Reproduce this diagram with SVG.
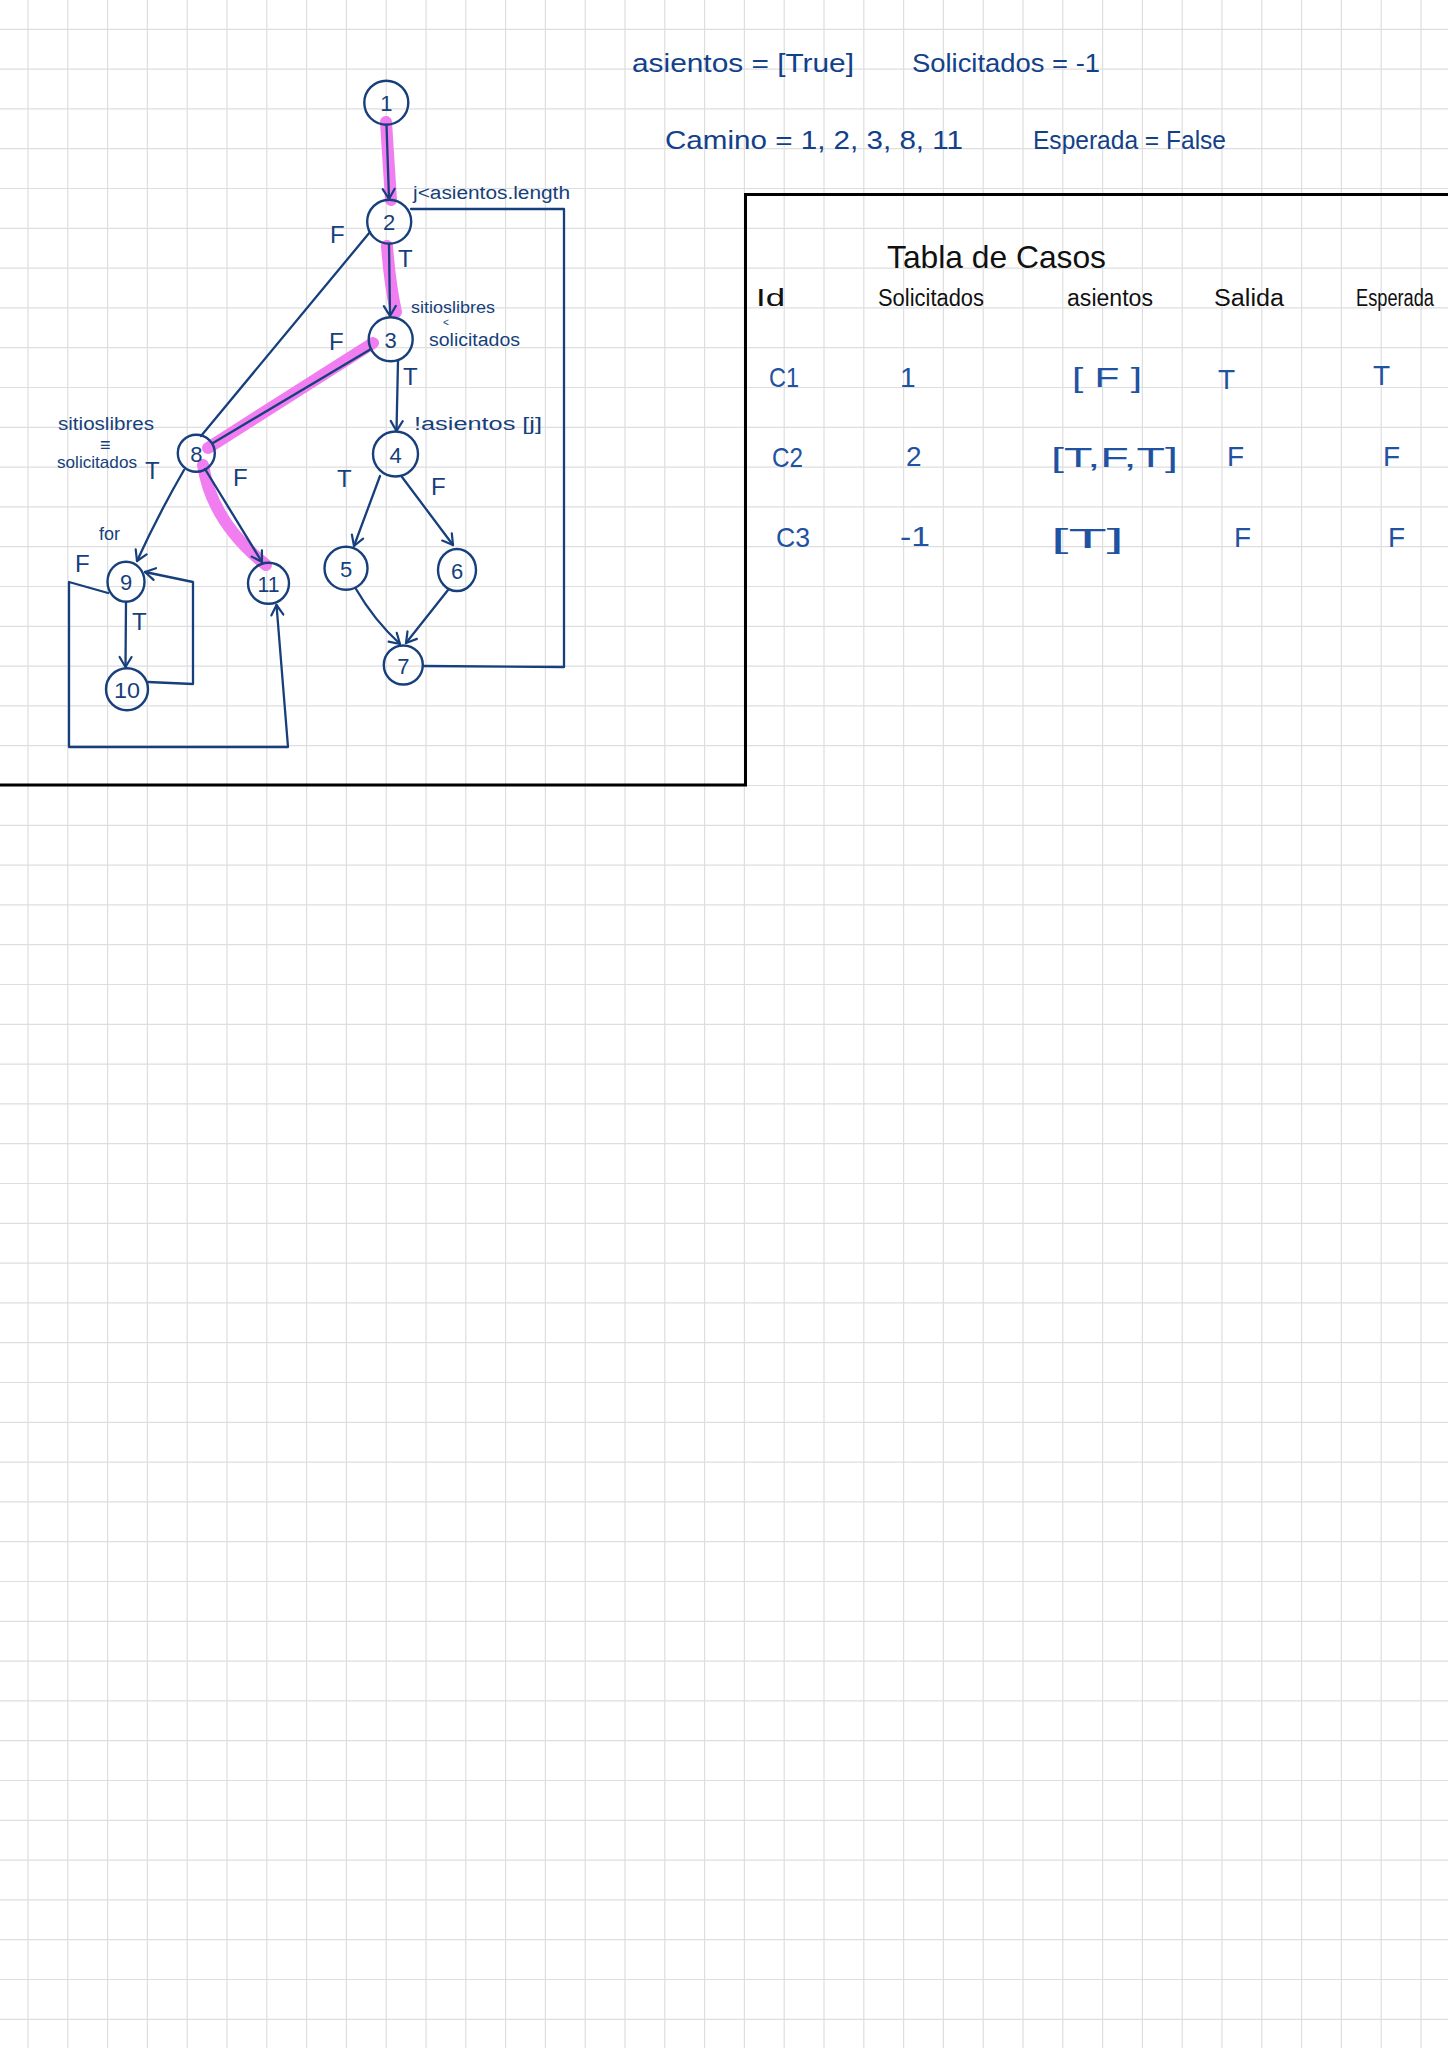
<svg xmlns="http://www.w3.org/2000/svg" width="1448" height="2048" viewBox="0 0 1448 2048">
<defs>
<style>
.ink{fill:none;stroke:#163f7c;stroke-width:2.3;stroke-linecap:round;stroke-linejoin:round}
.node{fill:none;stroke:#163f7c;stroke-width:2.4}
.num{font-family:"Liberation Sans",Arial,sans-serif;font-size:22px;fill:#163f7c;text-anchor:middle;dominant-baseline:central}
.lbl{font-family:"Liberation Sans",Arial,sans-serif;font-size:24px;fill:#163f7c}
.sm{font-family:"Liberation Sans",Arial,sans-serif;font-size:18px;fill:#163f7c}
.top{font-family:"Liberation Sans",Arial,sans-serif;font-size:26px;fill:#12418a}
.hdr{font-family:"Liberation Sans",Arial,sans-serif;font-size:23px;fill:#111}
.cell{font-family:"Liberation Sans",Arial,sans-serif;font-size:28px;fill:#1f52a0}
.hl{fill:none;stroke:#f07ef0;stroke-width:12;stroke-linecap:round;stroke-linejoin:round}
.grid{fill:none;stroke:#dedede;stroke-width:1.2}
</style>
<marker id="arr" viewBox="-12 -8 14 16" markerWidth="14" markerHeight="16" refX="0" refY="0" orient="auto" markerUnits="userSpaceOnUse">
<path d="M-10,-6 L0,0 L-10,6" fill="none" stroke="#163f7c" stroke-width="2.2" stroke-linecap="round" stroke-linejoin="round"/>
</marker>
</defs>
<rect width="1448" height="2048" fill="#ffffff"/>
<g id="grid">
<path class="grid" d="M28 0V2048M67.8 0V2048M107.6 0V2048M147.4 0V2048M187.2 0V2048M227 0V2048M266.8 0V2048M306.6 0V2048M346.4 0V2048M386.2 0V2048M426 0V2048M465.8 0V2048M505.6 0V2048M545.4 0V2048M585.2 0V2048M625 0V2048M664.8 0V2048M704.6 0V2048M744.4 0V2048M784.2 0V2048M824 0V2048M863.8 0V2048M903.6 0V2048M943.4 0V2048M983.2 0V2048M1023 0V2048M1062.8 0V2048M1102.6 0V2048M1142.4 0V2048M1182.2 0V2048M1222 0V2048M1261.8 0V2048M1301.6 0V2048M1341.4 0V2048M1381.2 0V2048M1421 0V2048"/>
<path class="grid" d="M0 29.3H1448M0 69.1H1448M0 108.9H1448M0 148.7H1448M0 188.5H1448M0 228.3H1448M0 268.1H1448M0 307.9H1448M0 347.7H1448M0 387.5H1448M0 427.3H1448M0 467.1H1448M0 506.9H1448M0 546.7H1448M0 586.5H1448M0 626.3H1448M0 666.1H1448M0 705.9H1448M0 745.7H1448M0 785.5H1448M0 825.3H1448M0 865.1H1448M0 904.9H1448M0 944.7H1448M0 984.5H1448M0 1024.3H1448M0 1064.1H1448M0 1103.9H1448M0 1143.7H1448M0 1183.5H1448M0 1223.3H1448M0 1263.1H1448M0 1302.9H1448M0 1342.7H1448M0 1382.5H1448M0 1422.3H1448M0 1462.1H1448M0 1501.9H1448M0 1541.7H1448M0 1581.5H1448M0 1621.3H1448M0 1661.1H1448M0 1700.9H1448M0 1740.7H1448M0 1780.5H1448M0 1820.3H1448M0 1860.1H1448M0 1899.9H1448M0 1939.7H1448M0 1979.5H1448M0 2019.3H1448"/>
</g>
<g id="frame">
<path d="M1448 194.5H745.5V785H0" fill="none" stroke="#000" stroke-width="3"/>
</g>
<g id="highlight">
<path class="hl" d="M386 122L391 200"/>
<path class="hl" d="M387 246Q390 285 396 312"/>
<path class="hl" d="M373 343L208 448"/>
<path class="hl" d="M203 465Q212 522 266 565"/>
</g>
<g id="connectors">
<path class="ink" d="M386.5 125L389 199" marker-end="url(#arr)"/>
<path class="ink" d="M389 244L390 316" marker-end="url(#arr)"/>
<path class="ink" d="M371 349L213 443"/>
<path class="ink" d="M370 232L201 436"/>
<path class="ink" d="M398 361L396.5 431" marker-end="url(#arr)"/>
<path class="ink" d="M184 470Q158 515 137 561" marker-end="url(#arr)"/>
<path class="ink" d="M205 469L262 562" marker-end="url(#arr)"/>
<path class="ink" d="M126 602L125.5 667" marker-end="url(#arr)"/>
<path class="ink" d="M148 682L193 684L193 582L145 572" marker-end="url(#arr)"/>
<path class="ink" d="M108 593L69 582L69 747L288 747L276.5 605" marker-end="url(#arr)"/>
<path class="ink" d="M380 476L354 546" marker-end="url(#arr)"/>
<path class="ink" d="M402 477L453 545" marker-end="url(#arr)"/>
<path class="ink" d="M356 589Q374 620 400 644" marker-end="url(#arr)"/>
<path class="ink" d="M448 590L406 643" marker-end="url(#arr)"/>
<path class="ink" d="M423 666L564 667L564 209L411 209"/>
</g>
<g id="edge-labels">
<text class="sm" x="413" y="199" textLength="157" lengthAdjust="spacingAndGlyphs">j&lt;asientos.length</text>
<text class="lbl" x="330" y="243">F</text>
<text class="lbl" x="398" y="267">T</text>
<text class="sm"><tspan x="411" y="313" font-size="17" textLength="84" lengthAdjust="spacingAndGlyphs">sitioslibres</tspan><tspan x="443" y="326" font-size="10">&lt;</tspan><tspan x="429" y="346" textLength="91" lengthAdjust="spacingAndGlyphs">solicitados</tspan></text>
<text class="lbl" x="329" y="350">F</text>
<text class="lbl" x="403" y="385">T</text>
<text class="sm" x="414" y="430" font-size="20" textLength="128" lengthAdjust="spacingAndGlyphs">!asientos [j]</text>
<text class="sm"><tspan x="58" y="430" textLength="96" lengthAdjust="spacingAndGlyphs">sitioslibres</tspan><tspan x="100" y="451">≡</tspan><tspan x="57" y="468" font-size="17" textLength="80" lengthAdjust="spacingAndGlyphs">solicitados</tspan></text>
<text class="lbl" x="145" y="479">T</text>
<text class="lbl" x="233" y="486">F</text>
<text class="lbl" x="337" y="487">T</text>
<text class="lbl" x="431" y="495">F</text>
<text class="sm" x="99" y="540" font-size="17">for</text>
<text class="lbl" x="75" y="572">F</text>
<text class="lbl" x="132" y="630" font-size="22">T</text>
</g>
<g id="n1"><circle class="node" cx="386.3" cy="102.7" r="22"/><text class="num" x="386.3" y="103">1</text></g>
<g id="n2"><circle class="node" cx="389.2" cy="221.7" r="22"/><text class="num" x="389.2" y="222">2</text></g>
<g id="n3"><circle class="node" cx="390.7" cy="339.3" r="22"/><text class="num" x="390.7" y="340">3</text></g>
<g id="n4"><circle class="node" cx="395.5" cy="454" r="22.5"/><text class="num" x="395.5" y="455">4</text></g>
<g id="n5"><circle class="node" cx="346" cy="568.3" r="21.5"/><text class="num" x="346" y="569">5</text></g>
<g id="n6"><ellipse class="node" cx="457" cy="570" rx="19" ry="21"/><text class="num" x="457" y="571">6</text></g>
<g id="n7"><circle class="node" cx="403.3" cy="665" r="19.5"/><text class="num" x="403.3" y="666">7</text></g>
<g id="n8"><circle class="node" cx="196.3" cy="453.3" r="18.5"/><text class="num" x="196.3" y="454" font-size="20">8</text></g>
<g id="n9"><ellipse class="node" cx="126" cy="581.7" rx="18.5" ry="20"/><text class="num" x="126" y="582">9</text></g>
<g id="n10"><circle class="node" cx="127" cy="689.3" r="21"/><text class="num" x="127" y="690" textLength="26" lengthAdjust="spacingAndGlyphs">10</text></g>
<g id="n11"><circle class="node" cx="268.5" cy="583.3" r="20.5"/><text class="num" x="268.5" y="584" textLength="22" lengthAdjust="spacingAndGlyphs">11</text></g>
<g id="notes">
<text class="top" x="632" y="72" textLength="222" lengthAdjust="spacingAndGlyphs">asientos = [True]</text>
<text class="top" x="912" y="72" textLength="188" lengthAdjust="spacingAndGlyphs">Solicitados = -1</text>
<text class="top" x="665" y="149" textLength="298" lengthAdjust="spacingAndGlyphs">Camino = 1, 2, 3, 8, 11</text>
<text class="top" x="1033" y="149" textLength="193" lengthAdjust="spacingAndGlyphs">Esperada = False</text>
</g>
<g id="table">
<text x="887" y="268" font-family="Liberation Sans, Arial, sans-serif" font-size="32" fill="#111" textLength="219" lengthAdjust="spacingAndGlyphs">Tabla de Casos</text>
<text class="hdr" x="756" y="306" textLength="29" lengthAdjust="spacingAndGlyphs">Id</text>
<text class="hdr" x="878" y="306" textLength="106" lengthAdjust="spacingAndGlyphs">Solicitados</text>
<text class="hdr" x="1067" y="306" textLength="86" lengthAdjust="spacingAndGlyphs">asientos</text>
<text class="hdr" x="1214" y="306" textLength="70" lengthAdjust="spacingAndGlyphs">Salida</text>
<text class="hdr" x="1356" y="306" font-size="18" textLength="78" lengthAdjust="spacingAndGlyphs">Esperada</text>
<text class="cell" x="769" y="387" textLength="30" lengthAdjust="spacingAndGlyphs">C1</text>
<text class="cell" x="900" y="387">1</text>
<text class="cell" x="1072" y="387" font-size="34" textLength="70" lengthAdjust="spacingAndGlyphs">[ F ]</text>
<text class="cell" x="1218" y="389" font-size="32">T</text>
<text class="cell" x="1373" y="385" font-size="32">T</text>
<text class="cell" x="772" y="467" textLength="31" lengthAdjust="spacingAndGlyphs">C2</text>
<text class="cell" x="906" y="466">2</text>
<text class="cell" x="1051" y="467" font-size="34" textLength="127" lengthAdjust="spacingAndGlyphs">[T,F,T]</text>
<text class="cell" x="1227" y="466">F</text>
<text class="cell" x="1383" y="466">F</text>
<text class="cell" x="776" y="547" textLength="34" lengthAdjust="spacingAndGlyphs">C3</text>
<text class="cell" x="900" y="546" textLength="30" lengthAdjust="spacingAndGlyphs">-1</text>
<text class="cell" x="1051" y="548" font-size="34" textLength="73" lengthAdjust="spacingAndGlyphs">[T]</text>
<text class="cell" x="1234" y="547">F</text>
<text class="cell" x="1388" y="547">F</text>
</g>
</svg>
